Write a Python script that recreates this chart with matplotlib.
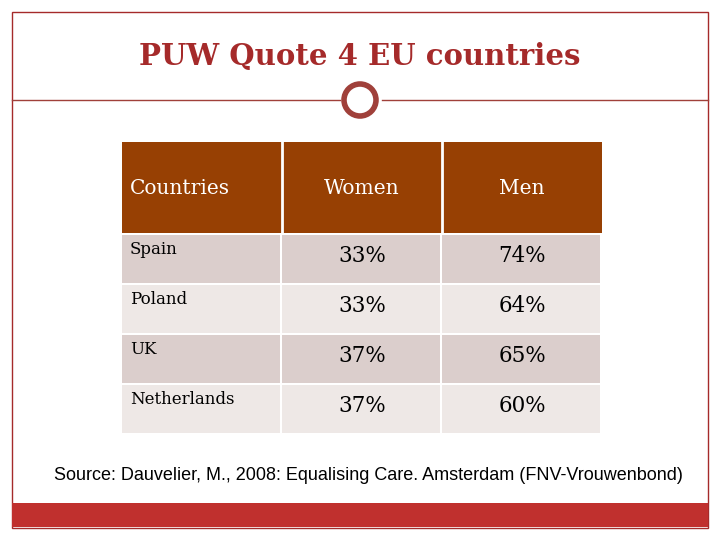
import matplotlib
matplotlib.use("Agg")
import matplotlib.pyplot as plt
from matplotlib.patches import Rectangle, Circle

title = "PUW Quote 4 EU countries"
headers = ["Countries", "Women", "Men"]
countries = ["Spain", "Poland", "UK", "Netherlands"]
women = [33, 33, 37, 37]
men = [74, 64, 65, 60]
source = "Source: Dauvelier, M., 2008: Equalising Care. Amsterdam (FNV-Vrouwenbond)"

fig = plt.figure(figsize=(7.2, 5.4), dpi=100)
ax = fig.add_axes([0, 0, 1, 1])
ax.set_xlim(0, 720); ax.set_ylim(540, 0); ax.axis("off")

red = "#A52A2A"
serif = "DejaVu Serif"
ax.add_patch(Rectangle((12, 12), 696, 516, fill=False, ec=red, lw=1))
ax.text(360, 57, title, ha="center", va="center", fontsize=21, color=red, family=serif, weight="bold")
ax.plot([12, 340], [100, 100], color="#A0403A", lw=1)
ax.plot([382, 708], [100, 100], color="#A0403A", lw=1)
ax.add_patch(Circle((360, 100), 16, fill=False, ec="#A0403A", lw=4))

xs = [122, 282, 442, 602]
ax.add_patch(Rectangle((122, 142), 480, 91, color="#974003", lw=0))
for i in range(2):
    ax.plot([xs[i+1]]*2, [142, 233], color="white", lw=2)
for j, h in enumerate(headers):
    if j == 0:
        ax.text(130, 188, h, ha="left", va="center", fontsize=14.5, color="white", family=serif)
    else:
        ax.text((xs[j]+xs[j+1])/2, 188, h, ha="center", va="center", fontsize=14.5, color="white", family=serif)
row_h = 50
for i, c in enumerate(countries):
    y0 = 235 + i*row_h
    col = "#DBCECC" if i % 2 == 0 else "#EEE8E6"
    for j in range(3):
        ax.add_patch(Rectangle((xs[j], y0), xs[j+1]-xs[j]-2, row_h-2, color=col, lw=0))
    ax.text(130, y0+15, c, ha="left", va="center", fontsize=12, color="black", family=serif)
    ax.text(362, y0+21, f"{women[i]}%", ha="center", va="center", fontsize=15.5, family=serif)
    ax.text(522, y0+21, f"{men[i]}%", ha="center", va="center", fontsize=15.5, family=serif)

ax.text(368, 476, source, ha="center", va="center", fontsize=13, family="Liberation Sans")
ax.add_patch(Rectangle((12, 503), 696, 24, color="#C0302E", lw=0))
fig.savefig("out.png", dpi=100)
